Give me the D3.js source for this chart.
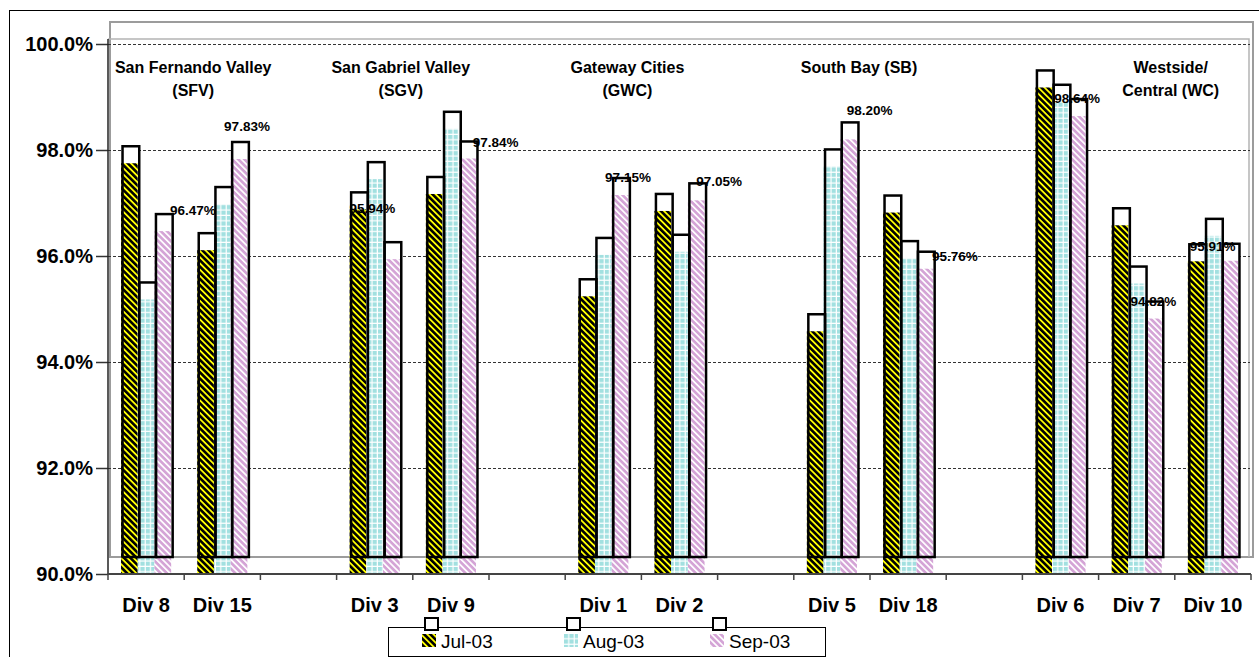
<!DOCTYPE html>
<html>
<head>
<meta charset="utf-8">
<script src="https://d3js.org/d3.v7.min.js"></script>
<style>
    body { margin: 0; background: #fff; }
    svg { display: block; font-family: Arial, "Liberation Sans", sans-serif; }
</style>
</head>
<body>
<div id="chart"></div>
<script>
// categories (blank slots separate the regions)
var divisions = ["Div 8", "Div 15", "", "Div 3", "Div 9", "", "Div 1", "Div 2", "", "Div 5", "Div 18", "", "Div 6", "Div 7", "Div 10"];
var months = ["Jul-03", "Aug-03", "Sep-03"];

// percent values per month
var jul = [97.75, 96.11, null, 96.88, 97.17, null, 95.24, 96.85, null, 94.58, 96.82, null, 99.18, 96.58, 95.90];
var aug = [95.18, 96.98, null, 97.45, 98.40, null, 96.02, 96.08, null, 97.69, 95.96, null, 98.91, 95.48, 96.38];
var sep = [96.47, 97.83, null, 95.94, 97.84, null, 97.15, 97.05, null, 98.20, 95.76, null, 98.64, 94.82, 95.91];

var yTicks = [90, 92, 94, 96, 98, 100];

// region headings and the categories they cover
var regionNames = [["San Fernando Valley", "(SFV)"], ["San Gabriel Valley", "(SGV)"], ["Gateway Cities", "(GWC)"], ["South Bay (SB)"], ["Westside/", "Central (WC)"]];
var regionFirst = [0, 3, 6, 9, 12];
var regionLast = [1, 4, 7, 10, 14];

// texts were dragged by hand in the original sheet, these are the nudges (px)
var regionNudge = [9, -12, -14, -11, 34];
var labelNudge = [[30, -4], [8, -16], null, [-19, -34], [28, 1], null, [8, -1], [23, -2], null, [21, -12], [30, 4], null, [0, -1], [0, 0], [-17, 2]];

var width = 1259, height = 657;
var plot = {left: 108, right: 1251, top: 44, bottom: 574};
var depth = {x: 1.5, y: -17}; // offset of the bar outlines (fake 3d)

var svg = d3.select("#chart").append("svg")
    .attr("width", width)
    .attr("height", height);

// patterns
var defs = svg.append("defs");

var pJul = defs.append("pattern")
    .attr("id", "pJul")
    .attr("patternUnits", "userSpaceOnUse")
    .attr("width", 4.4).attr("height", 4.4)
    .attr("patternTransform", "rotate(-45)");
pJul.append("rect").attr("width", 4.4).attr("height", 4.4).attr("fill", "#ffff00");
pJul.append("rect").attr("width", 2.6).attr("height", 4.4).attr("fill", "#000");

var pAug = defs.append("pattern")
    .attr("id", "pAug")
    .attr("patternUnits", "userSpaceOnUse")
    .attr("width", 5.4).attr("height", 5.4);
pAug.append("rect").attr("width", 5.4).attr("height", 5.4).attr("fill", "#a2e0e0");
pAug.append("rect").attr("x", 4.2).attr("width", 1.2).attr("height", 5.4).attr("fill", "#fff");
pAug.append("rect").attr("y", 4.2).attr("width", 5.4).attr("height", 1.2).attr("fill", "#fff");

var pSep = defs.append("pattern")
    .attr("id", "pSep")
    .attr("patternUnits", "userSpaceOnUse")
    .attr("width", 4.4).attr("height", 4.4)
    .attr("patternTransform", "rotate(-45)");
pSep.append("rect").attr("width", 4.4).attr("height", 4.4).attr("fill", "#d4a4d6");
pSep.append("rect").attr("width", 1.7).attr("height", 4.4).attr("fill", "#fff");

var fills = ["url(#pJul)", "url(#pAug)", "url(#pSep)"];

// outer chart border
svg.append("rect")
    .attr("x", 9.5).attr("y", 10.5)
    .attr("width", 1300).attr("height", 700)
    .attr("fill", "none")
    .attr("stroke", "#000")
    .attr("stroke-width", 1);

// scales
var xScale = d3.scaleBand()
    .domain(d3.range(divisions.length))
    .range([plot.left, plot.right]);

var xInner = d3.scaleBand()
    .domain(months)
    .range([0, xScale.bandwidth()])
    .paddingOuter(0.78);

var yScale = d3.scaleLinear()
    .domain([90, 100])
    .range([plot.bottom, plot.top]);

// back wall
svg.append("rect")
    .attr("x", plot.left + 2).attr("y", plot.top + depth.y - 5)
    .attr("width", plot.right - plot.left).attr("height", plot.bottom - plot.top + 5)
    .attr("fill", "none")
    .attr("stroke", "#9c9c9c")
    .attr("stroke-width", 2);

svg.append("path")
    .attr("d", "M" + plot.left + "," + (plot.top - 5) + "H" + (plot.right - 2) + "V" + (plot.bottom + depth.y))
    .attr("fill", "none")
    .attr("stroke", "#b4b4b4")
    .attr("stroke-width", 1.5);

// gridlines
svg.append("g")
    .selectAll("line")
    .data(yTicks.filter(function(d) { return d > 90; }))
    .enter().append("line")
    .attr("x1", plot.left).attr("x2", plot.right - 1)
    .attr("y1", function(d) { return yScale(d) + 0.5; })
    .attr("y2", function(d) { return yScale(d) + 0.5; })
    .attr("stroke", "#333")
    .attr("stroke-width", 1)
    .attr("stroke-dasharray", "3,2");

// y axis
var yAxis = d3.axisLeft(yScale)
    .tickValues(yTicks)
    .tickSize(12)
    .tickPadding(3)
    .tickFormat(function(d) { return d.toFixed(1) + "%"; });

var yG = svg.append("g")
    .attr("transform", "translate(" + plot.left + ",0)")
    .call(yAxis)
    .attr("font-size", 20)
    .attr("font-family", "Arial, 'Liberation Sans', sans-serif")
    .attr("font-weight", "bold");
yG.select(".domain").remove();
yG.selectAll(".tick line").attr("stroke", "#333").attr("stroke-width", 1.5);
yG.selectAll(".tick text").attr("fill", "#000");

svg.append("line")
    .attr("x1", plot.left).attr("x2", plot.left)
    .attr("y1", plot.top - 5).attr("y2", plot.bottom)
    .attr("stroke", "#222")
    .attr("stroke-width", 1.5);

// bars, flattened
var series = [jul, aug, sep];
var bars = [];
divisions.forEach(function(div, i) {
    series.forEach(function(s, m) {
        if (s[i] !== null) {
            bars.push({i: i, m: m, month: months[m], value: s[i]});
        }
    });
});

function barX(d) { return xScale(d.i) + xInner(d.month); }

var barG = svg.append("g");

// white back of each outline box
barG.selectAll(".barBack")
    .data(bars)
    .enter().append("rect")
    .attr("class", "barBack")
    .attr("x", function(d) { return barX(d) + depth.x; })
    .attr("y", function(d) { return yScale(d.value) + depth.y; })
    .attr("width", xInner.bandwidth())
    .attr("height", function(d) { return yScale(90) - yScale(d.value); })
    .attr("fill", "#fff");

barG.selectAll(".barFill")
    .data(bars)
    .enter().append("rect")
    .attr("class", "barFill")
    .attr("x", function(d) { return barX(d); })
    .attr("y", function(d) { return yScale(d.value); })
    .attr("width", xInner.bandwidth())
    .attr("height", function(d) { return yScale(90) - yScale(d.value); })
    .attr("fill", function(d) { return fills[d.m]; });

barG.selectAll(".barLine")
    .data(bars)
    .enter().append("rect")
    .attr("class", "barLine")
    .attr("x", function(d) { return barX(d) + depth.x; })
    .attr("y", function(d) { return yScale(d.value) + depth.y; })
    .attr("width", xInner.bandwidth())
    .attr("height", function(d) { return yScale(90) - yScale(d.value); })
    .attr("fill", "none")
    .attr("stroke", "#000")
    .attr("stroke-width", 2.5);

// x axis
svg.append("line")
    .attr("x1", plot.left).attr("x2", plot.right)
    .attr("y1", plot.bottom).attr("y2", plot.bottom)
    .attr("stroke", "#444")
    .attr("stroke-width", 2);

svg.append("g")
    .selectAll("line")
    .data(d3.range(divisions.length + 1))
    .enter().append("line")
    .attr("x1", function(i) { return i < divisions.length ? xScale(i) : plot.right; })
    .attr("x2", function(i) { return i < divisions.length ? xScale(i) : plot.right; })
    .attr("y1", plot.bottom)
    .attr("y2", plot.bottom + 6)
    .attr("stroke", "#444")
    .attr("stroke-width", 1.5);

svg.append("g")
    .selectAll("text")
    .data(divisions)
    .enter().append("text")
    .attr("x", function(d, i) { return xScale(i) + xScale.bandwidth() / 2; })
    .attr("y", plot.bottom + 38)
    .attr("text-anchor", "middle")
    .style("font-size", "20px")
    .style("font-weight", "bold")
    .text(function(d) { return d; });

// value labels on the Sep bars
var labels = bars.filter(function(d) { return d.m === 2; });
svg.append("g")
    .selectAll("text")
    .data(labels)
    .enter().append("text")
    .attr("x", function(d) { return barX(d) + xInner.bandwidth() / 2 + labelNudge[d.i][0]; })
    .attr("y", function(d) { return yScale(d.value) + depth.y + labelNudge[d.i][1]; })
    .attr("dy", "0.36em")
    .attr("text-anchor", "middle")
    .style("font-size", "13.5px")
    .style("font-weight", "bold")
    .text(function(d) { return d.value.toFixed(2) + "%"; });

// region headings
regionNames.forEach(function(lines, r) {
    var cx = (xScale(regionFirst[r]) + xScale(regionLast[r]) + xScale.bandwidth()) / 2 + regionNudge[r];
    lines.forEach(function(line, k) {
        svg.append("text")
            .attr("x", cx)
            .attr("y", 73 + k * 23)
            .attr("text-anchor", "middle")
            .style("font-size", "16px")
            .style("font-weight", "bold")
            .text(line);
    });
});

// legend
var legend = svg.append("g");
legend.append("rect")
    .attr("x", 388.5).attr("y", 627.5)
    .attr("width", 437).attr("height", 29)
    .attr("fill", "#fff")
    .attr("stroke", "#000")
    .attr("stroke-width", 1);

var legendX = [422, 564, 710];
months.forEach(function(m, k) {
    var g = legend.append("g").attr("transform", "translate(" + legendX[k] + ",634)");
    g.append("rect")
        .attr("x", 3).attr("y", -16)
        .attr("width", 13).attr("height", 12)
        .attr("fill", "#fff")
        .attr("stroke", "#000")
        .attr("stroke-width", 2);
    g.append("rect")
        .attr("width", 14).attr("height", 13)
        .attr("fill", fills[k]);
    g.append("text")
        .attr("x", 19).attr("y", 13.5)
        .style("font-size", "19px")
        .text(m);
});
</script>
</body>
</html>
